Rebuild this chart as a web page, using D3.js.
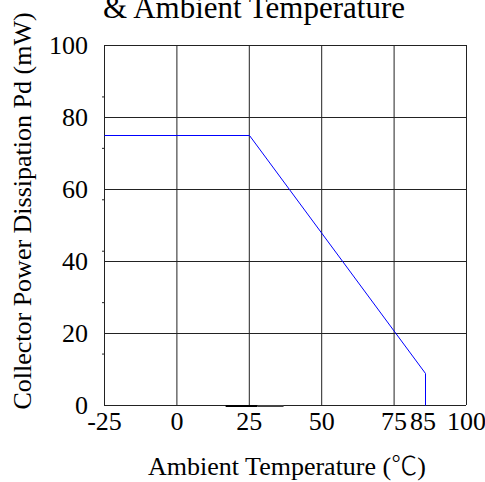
<!DOCTYPE html>
<meta charset="utf-8">
<style>
body { margin: 0; background: #fff; }
text { font-family: "Liberation Serif", "Times New Roman", serif; fill: #000; }
.grid line { stroke: #222; stroke-width: 1; }
.grid path { display: none; }
.ticks text { font-size: 26px; }
.ticks path, .ticks line { display: none; }
</style>
<svg width="485" height="482"></svg>
<script src="https://d3js.org/d3.v7.min.js"></script>
<script>

// data
var temp = [-25, 25, 86, 86];        // deg C
var power = [75, 75, 9, 0];          // mW
var xGridTicks = [-25, 0, 25, 50, 75, 100];
var xLabelTicks = [-25, 0, 25, 50, 75, 85, 100];
var yTicks = [0, 20, 40, 60, 80, 100];
// odd dark smear on the x axis in the original
var smearFrom = [17, 28];
var smearTo = [28, 37];
var smearColor = ["#000", "#444"];

var svg = d3.select("svg");
var padL = 104, padR = 466, padT = 45, padB = 405;

var x = d3.scaleLinear().domain([-25, 100]).range([padL, padR]);
var y = d3.scaleLinear().domain([0, 100]).range([padB, padT]);

var fmt = function(d) { return String(d); }; // plain hyphen minus

// title (first line is cut off in the reference)
svg.append("text")
    .attr("x", 254).attr("y", 18)
    .attr("text-anchor", "middle")
    .style("font-size", "31px")
    .text("& Ambient Temperature");

// grid
svg.append("g").attr("class", "grid")
    .attr("transform", "translate(0," + padB + ")")
    .call(d3.axisBottom(x).tickValues(xGridTicks).tickSize(-(padB - padT)).tickFormat(""));
svg.append("g").attr("class", "grid")
    .attr("transform", "translate(" + padL + ",0)")
    .call(d3.axisLeft(y).tickValues(yTicks).tickSize(-(padR - padL)).tickFormat(""));

// small minor ticks on left side
svg.append("g").attr("class", "grid")
    .attr("transform", "translate(" + padL + ",0)")
    .call(d3.axisLeft(y).tickValues(d3.range(1, 7).map(function(i) { return i * 100 / 7; })).tickSize(2).tickFormat(""));

// tick labels
svg.append("g").attr("class", "ticks")
    .attr("transform", "translate(0," + padB + ")")
    .call(d3.axisBottom(x).tickValues(xLabelTicks).tickSize(0).tickPadding(7).tickFormat(fmt));
svg.append("g").attr("class", "ticks")
    .attr("transform", "translate(" + padL + ",0)")
    .call(d3.axisLeft(y).tickValues(yTicks).tickSize(0).tickPadding(16).tickFormat(fmt));

// smear
svg.selectAll(".smear").data(smearFrom).enter().append("line")
    .attr("class", "smear")
    .attr("x1", function(d) { return x(d); })
    .attr("x2", function(d, i) { return x(smearTo[i]); })
    .attr("y1", y(0) + 1).attr("y2", y(0) + 1)
    .attr("stroke", function(d, i) { return smearColor[i]; })
    .attr("stroke-width", 2);

// derating curve
var line = d3.line()
    .x(function(d) { return Math.round(x(d[0])) + 0.5; })
    .y(function(d) { return Math.round(y(d[1])) + 0.5; });
svg.append("path")
    .datum(d3.zip(temp, power))
    .attr("d", line)
    .attr("fill", "none")
    .attr("stroke", "#0000ff")
    .attr("stroke-width", 1);

// axis titles
var xt = svg.append("text")
    .attr("x", 287).attr("y", 475)
    .attr("text-anchor", "middle")
    .style("font-size", "26px");
xt.append("tspan").text("Ambient Temperature (");
xt.append("tspan").style("font-family", "'Noto Sans CJK JP'").style("font-weight", 300).text("℃");
xt.append("tspan").text(")");

svg.append("text")
    .attr("transform", "translate(31,211) rotate(-90)")
    .attr("text-anchor", "middle")
    .style("font-size", "26px")
    .text("Collector Power Dissipation Pd (mW)");

</script>
